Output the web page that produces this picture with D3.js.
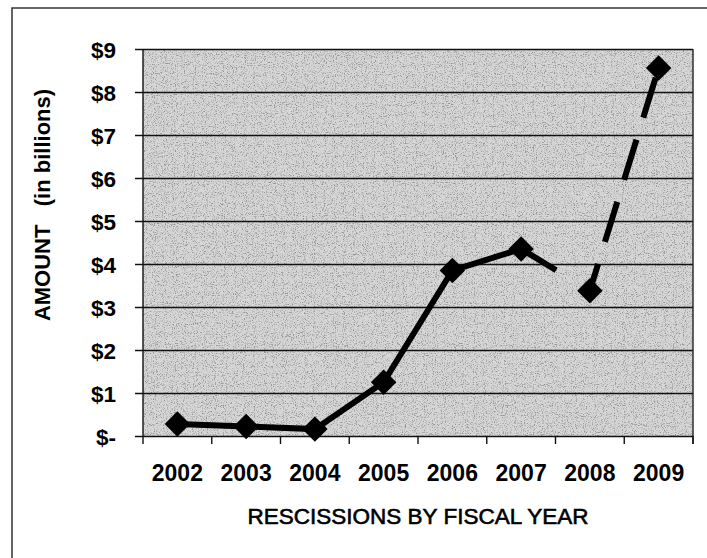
<!DOCTYPE html>
<html>
<head>
<meta charset="utf-8">
<script src="https://cdn.jsdelivr.net/npm/d3@7"></script>
<style>
  body { margin: 0; background: #fff; }
  svg { display: block; }
  text { font-family: "Liberation Sans", Arial, sans-serif; fill: #000; }
</style>
</head>
<body>
<div id="chart"></div>
<script>
// 회계연도별 취소액 (단위: 십억 달러)
const years = ['2002', '2003', '2004', '2005', '2006', '2007', '2008', '2009'];
const amounts = [0.28, 0.22, 0.16, 1.25, 3.85, 4.35, 3.38, 8.56];
const yTicks = [0, 1, 2, 3, 4, 5, 6, 7, 8, 9];
const yTickLabels = ['$-', '$1', '$2', '$3', '$4', '$5', '$6', '$7', '$8', '$9'];
const solidYears = ['2002', '2003', '2004', '2005', '2006', '2007'];

const width = 707, height = 558;
const plot = { left: 143, right: 693, top: 49, bottom: 436 };

const svg = d3.select('#chart').append('svg')
    .attr('width', width)
    .attr('height', height);

const defs = svg.append('defs');

// 스캔된 망점 느낌의 배경 노이즈
const noise = defs.append('filter')
    .attr('id', 'speckle')
    .attr('x', 0).attr('y', 0).attr('width', 1).attr('height', 1);
noise.append('feTurbulence')
    .attr('type', 'fractalNoise')
    .attr('baseFrequency', 0.9)
    .attr('numOctaves', 2)
    .attr('seed', 3)
    .attr('result', 'turb');
noise.append('feColorMatrix')
    .attr('in', 'turb')
    .attr('type', 'matrix')
    .attr('values', '0 0 0 0 0  0 0 0 0 0  0 0 0 0 0  -2.2 -2.2 -2.2 0 3.3')
    .attr('result', 'dots');
noise.append('feComposite')
    .attr('in', 'dots')
    .attr('in2', 'SourceGraphic')
    .attr('operator', 'in');

const x = d3.scaleBand()
    .domain(years)
    .range([plot.left, plot.right])
    .padding(0);

const y = d3.scaleLinear()
    .domain([0, 9])
    .range([plot.bottom, plot.top]);

// 바깥 테두리
svg.append('path')
    .attr('d', `M12,${height} L12,8 L${width},8`)
    .attr('fill', 'none')
    .attr('stroke', '#333')
    .attr('stroke-width', 1.5);

// 플롯 영역 배경
svg.append('rect')
    .attr('x', plot.left).attr('y', plot.top)
    .attr('width', plot.right - plot.left)
    .attr('height', plot.bottom - plot.top)
    .attr('fill', '#d6d6d6');

svg.append('rect')
    .attr('x', plot.left).attr('y', plot.top)
    .attr('width', plot.right - plot.left)
    .attr('height', plot.bottom - plot.top)
    .attr('fill', '#fff')
    .attr('filter', 'url(#speckle)')
    .style('opacity', 0.3);

// 가로 눈금선 + y축 (오른쪽 끝에서 왼쪽 눈금까지)
const yAxis = d3.axisLeft(y)
    .tickValues(yTicks)
    .tickSize(plot.right - plot.left + 8)
    .tickFormat((d, i) => yTickLabels[i]);

const gy = svg.append('g')
    .attr('transform', `translate(${plot.right},0)`)
    .call(yAxis);
gy.select('.domain').remove();
gy.selectAll('.tick line')
    .attr('stroke', '#111')
    .attr('stroke-width', 1.4);
gy.selectAll('.tick text')
    .attr('x', 116 - plot.right)
    .attr('dy', '0.36em')
    .style('font-size', '22.5px')
    .style('font-weight', 'bold')
    .attr('text-anchor', 'end');

// 테두리 (좌/우)
svg.append('line')
    .attr('x1', plot.left).attr('x2', plot.left)
    .attr('y1', plot.top).attr('y2', plot.bottom)
    .attr('stroke', '#111').attr('stroke-width', 1.4);
svg.append('line')
    .attr('x1', plot.right).attr('x2', plot.right)
    .attr('y1', plot.top).attr('y2', plot.bottom + 8)
    .attr('stroke', '#222').attr('stroke-width', 1.4);

// x축: 카테고리 경계에 눈금
const bounds = years.map(d => x(d)).concat([x.range()[1]]);
svg.selectAll('.xtick')
    .data(bounds)
    .join('line')
    .attr('class', 'xtick')
    .attr('x1', d => d).attr('x2', d => d)
    .attr('y1', plot.bottom).attr('y2', plot.bottom + 8)
    .attr('stroke', '#111').attr('stroke-width', 1.4);

svg.selectAll('.xlabel')
    .data(years)
    .join('text')
    .attr('class', 'xlabel')
    .attr('x', d => x(d) + x.bandwidth() / 2)
    .attr('y', 481)
    .attr('text-anchor', 'middle')
    .style('font-size', '23px')
    .style('font-weight', 'bold')
    .text(d => d);

// 축 제목
svg.append('text')
    .attr('x', plot.left + (plot.right - plot.left) / 2)
    .attr('y', 524)
    .attr('text-anchor', 'middle')
    .style('font-size', '22.5px')
    .style('stroke', '#000')
    .style('stroke-width', 0.6)
    .text('RESCISSIONS BY FISCAL YEAR');

svg.append('text')
    .attr('transform', 'translate(50,205) rotate(-90)')
    .attr('text-anchor', 'middle')
    .style('font-size', '22px')
    .style('font-weight', 'bold')
    .style('white-space', 'pre')
    .text('AMOUNT   (in billions)');

// 선
const points = years.map((yr, i) => ({ year: yr, value: amounts[i] }));
const line = d3.line()
    .x(d => x(d.year) + x.bandwidth() / 2)
    .y(d => y(d.value));

svg.append('path')
    .datum(points.filter(p => solidYears.includes(p.year)))
    .attr('d', line)
    .attr('fill', 'none')
    .attr('stroke', '#000')
    .attr('stroke-width', 6);

// 2007 → 2008: 앞부분만 그려짐
svg.append('path')
    .datum(points.slice(5, 7))
    .attr('d', line)
    .attr('fill', 'none')
    .attr('stroke', '#000')
    .attr('stroke-width', 6)
    .attr('stroke-dasharray', '41 300');

// 2008 → 2009: 파선
svg.append('path')
    .datum(points.slice(6, 8))
    .attr('d', line)
    .attr('fill', 'none')
    .attr('stroke', '#000')
    .attr('stroke-width', 6)
    .attr('stroke-dasharray', '42 23')
    .attr('stroke-dashoffset', 14);

// 마름모 마커
svg.selectAll('.marker')
    .data(points)
    .join('path')
    .attr('class', 'marker')
    .attr('d', d3.symbol(d3.symbolSquare, 324))
    .attr('transform', d => `translate(${x(d.year) + x.bandwidth() / 2},${y(d.value)}) rotate(45)`)
    .attr('fill', '#000');
</script>
</body>
</html>
